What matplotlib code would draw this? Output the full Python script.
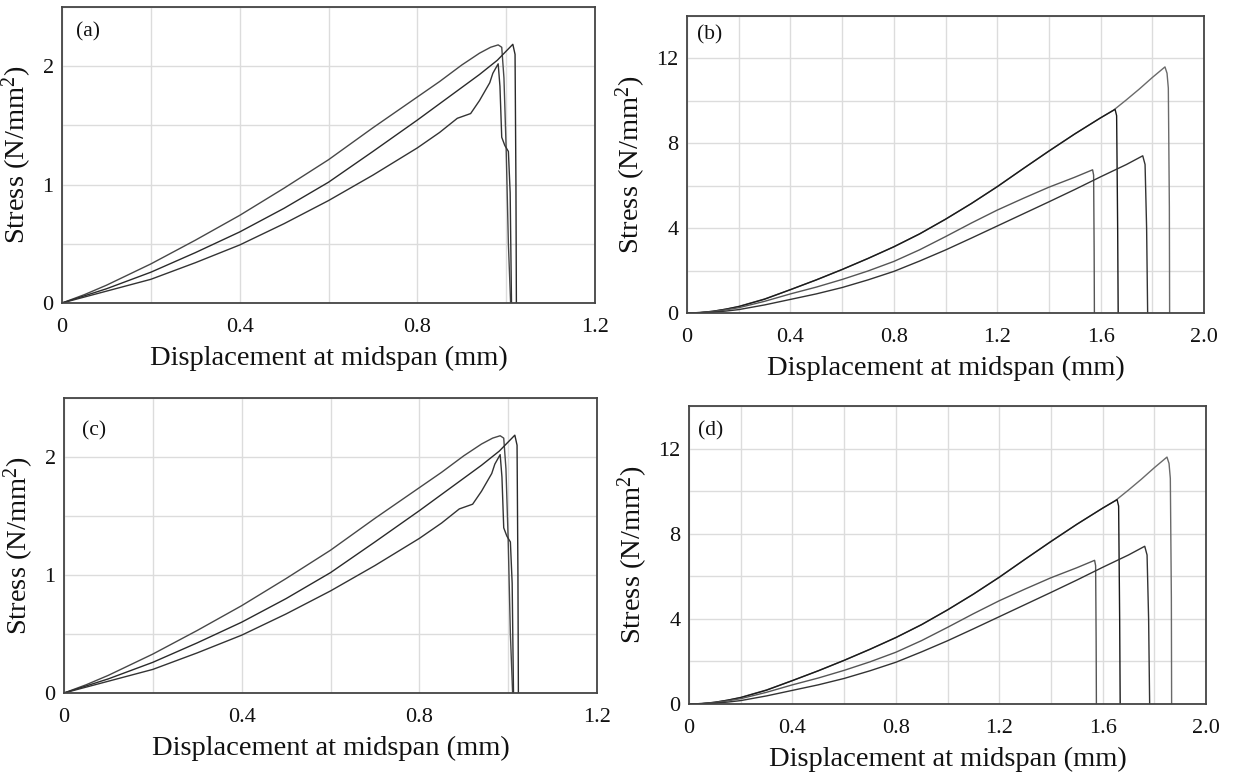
import matplotlib
matplotlib.use("Agg")
import matplotlib.pyplot as plt
import numpy as np

plt.rcParams['font.family'] = ['Liberation Serif', 'DejaVu Serif']
plt.rcParams['mathtext.fontset'] = 'custom'
plt.rcParams['mathtext.rm'] = 'Liberation Serif'
plt.rcParams['mathtext.default'] = 'regular'

# ---------------- data: panels (a)/(c) ----------------
a1_x = [0, 0.05, 0.1, 0.2, 0.3, 0.4, 0.5, 0.6, 0.7, 0.8, 0.85, 0.9, 0.94, 0.965, 0.982, 0.99, 0.995, 1.0, 1.005, 1.01]
a1_y = [0, 0.07, 0.15, 0.33, 0.53, 0.74, 0.97, 1.21, 1.48, 1.74, 1.87, 2.01, 2.11, 2.16, 2.18, 2.16, 1.9, 1.3, 0.5, 0]

a2_x = [0, 0.05, 0.1, 0.2, 0.3, 0.4, 0.5, 0.6, 0.7, 0.8, 0.9, 0.94, 0.98, 1.015, 1.02, 1.022, 1.023]
a2_y = [0, 0.06, 0.12, 0.26, 0.425, 0.60, 0.80, 1.02, 1.28, 1.545, 1.82, 1.93, 2.05, 2.185, 2.1, 1.0, 0]

a3_x = [0, 0.05, 0.1, 0.2, 0.3, 0.4, 0.5, 0.6, 0.7, 0.8, 0.85, 0.89, 0.92, 0.94, 0.963, 0.97, 0.982,
        0.986, 0.99, 0.997, 1.005, 1.009, 1.012]
a3_y = [0, 0.05, 0.10, 0.20, 0.34, 0.49, 0.67, 0.865, 1.08, 1.31, 1.44, 1.56, 1.60, 1.71, 1.86, 1.94, 2.02,
        1.83, 1.40, 1.33, 1.28, 0.93, 0]

# ---------------- data: panels (b)/(d) ----------------
b1_x = [0, 0.05, 0.1, 0.15, 0.2, 0.3, 0.4, 0.5, 0.6, 0.7, 0.8, 0.9, 1.0, 1.1, 1.2, 1.3, 1.4, 1.5, 1.6, 1.65,
        1.7, 1.75, 1.8, 1.849, 1.857, 1.862, 1.866, 1.867]
b1_y = [0, 0.02, 0.08, 0.18, 0.31, 0.66, 1.1, 1.56, 2.05, 2.57, 3.12, 3.73, 4.42, 5.16, 5.96, 6.8, 7.64, 8.44, 9.2, 9.56,
        10.05, 10.56, 11.1, 11.6, 11.3, 10.6, 5.0, 0]

b2_x = [0, 0.05, 0.1, 0.15, 0.2, 0.3, 0.4, 0.5, 0.6, 0.7, 0.8, 0.9, 1.0, 1.1, 1.2, 1.3, 1.4, 1.5, 1.6, 1.656,
        1.662, 1.666, 1.668]
b2_y = [0, 0.02, 0.08, 0.18, 0.30, 0.65, 1.1, 1.56, 2.05, 2.57, 3.12, 3.73, 4.42, 5.16, 5.95, 6.8, 7.63, 8.44, 9.2, 9.6,
        9.3, 4.0, 0]

b3_x = [0, 0.05, 0.1, 0.15, 0.2, 0.3, 0.4, 0.5, 0.6, 0.7, 0.8, 0.9, 1.0, 1.1, 1.2, 1.3, 1.4, 1.5, 1.569,
        1.573, 1.575, 1.576]
b3_y = [0, 0.02, 0.07, 0.15, 0.25, 0.55, 0.9, 1.22, 1.58, 1.98, 2.43, 2.98, 3.6, 4.24, 4.85, 5.4, 5.93, 6.4, 6.75,
        6.5, 3.0, 0]

b4_x = [0, 0.05, 0.1, 0.15, 0.2, 0.3, 0.4, 0.5, 0.6, 0.7, 0.8, 0.9, 1.0, 1.1, 1.2, 1.3, 1.4, 1.5, 1.6, 1.7,
        1.763, 1.772, 1.778, 1.782]
b4_y = [0, 0.01, 0.04, 0.09, 0.16, 0.38, 0.64, 0.9, 1.2, 1.56, 1.96, 2.45, 2.97, 3.53, 4.1, 4.67, 5.24, 5.82, 6.42, 7.0,
        7.41, 7.0, 4.0, 0]

# ---------------- ticks ----------------
a_xticks = [0, 0.4, 0.8, 1.2]
a_xticklabels = ['0', '0.4', '0.8', '1.2']
a_yticks = [0, 1, 2]
a_yticklabels = ['0', '1', '2']
b_xticks = [0, 0.4, 0.8, 1.2, 1.6, 2.0]
b_xticklabels = ['0', '0.4', '0.8', '1.2', '1.6', '2.0']
b_yticks = [0, 4, 8, 12]
b_yticklabels = ['0', '4', '8', '12']

panel_labels = ['(a)', '(b)', '(c)', '(d)']
xlabel = 'Displacement at midspan (mm)'
ylabel = 'Stress (N/mm$^{2}$)'

W, H = 1234, 774
fig = plt.figure(figsize=(W / 100, H / 100), dpi=100)

def px_axes(l, t, r, b):
    return fig.add_axes([l / W, 1 - b / H, (r - l) / W, (b - t) / H])

boxes = [(62, 7, 595, 303), (687, 16, 1204, 313), (64, 398, 597, 693), (689, 406, 1206, 704)]
label_pos = [(0.026, 0.915), (0.02, 0.935), (0.033, 0.89), (0.017, 0.918)]

a_series = [(a1_x, a1_y, '#474747'), (a2_x, a2_y, '#2a2a2a'), (a3_x, a3_y, '#333333')]
b_series = [(b1_x, b1_y, '#6a6a6a'), (b2_x, b2_y, '#1a1a1a'), (b3_x, b3_y, '#555555'), (b4_x, b4_y, '#333333')]

for i, box in enumerate(boxes):
    ax = px_axes(*box)
    is_a = (i % 2 == 0)
    series = a_series if is_a else b_series
    for x, y, c in series:
        ax.plot(x, y, color=c, lw=1.0, solid_joinstyle='round')
    if is_a:
        ax.set_xlim(0, 1.2)
        ax.set_ylim(0, 2.5)
        ax.set_xticks(a_xticks)
        ax.set_xticklabels(a_xticklabels)
        ax.set_yticks(a_yticks)
        ax.set_yticklabels(a_yticklabels)
        ax.set_xticks(np.arange(0, 1.21, 0.2), minor=True)
        ax.set_yticks(np.arange(0, 2.51, 0.5), minor=True)
    else:
        ax.set_xlim(0, 2.0)
        ax.set_ylim(0, 14)
        ax.set_xticks(b_xticks)
        ax.set_xticklabels(b_xticklabels)
        ax.set_yticks(b_yticks)
        ax.set_yticklabels(b_yticklabels)
        ax.set_xticks(np.arange(0, 2.01, 0.2), minor=True)
        ax.set_yticks(np.arange(0, 14.01, 2), minor=True)
    ax.grid(True, which='both', color='#dcdcdc', lw=1.0)
    ax.set_axisbelow(True)
    ax.tick_params(which='both', length=0)
    ax.tick_params(axis='x', pad=11, labelsize=16, colors='#111111')
    ax.tick_params(axis='y', pad=6, labelsize=16, colors='#111111')
    for s in ax.spines.values():
        s.set_color('#444444')
        s.set_linewidth(1.3)
    ax.set_xlabel(xlabel, fontsize=20.5, labelpad=6, color='#111111')
    ax.set_ylabel(ylabel, fontsize=20.5, labelpad=6, color='#111111')
    lx, ly = label_pos[i]
    ax.text(lx, ly, panel_labels[i], transform=ax.transAxes, fontsize=15.5,
            ha='left', va='center', color='#111111')

fig.savefig('out.png', dpi=100)
